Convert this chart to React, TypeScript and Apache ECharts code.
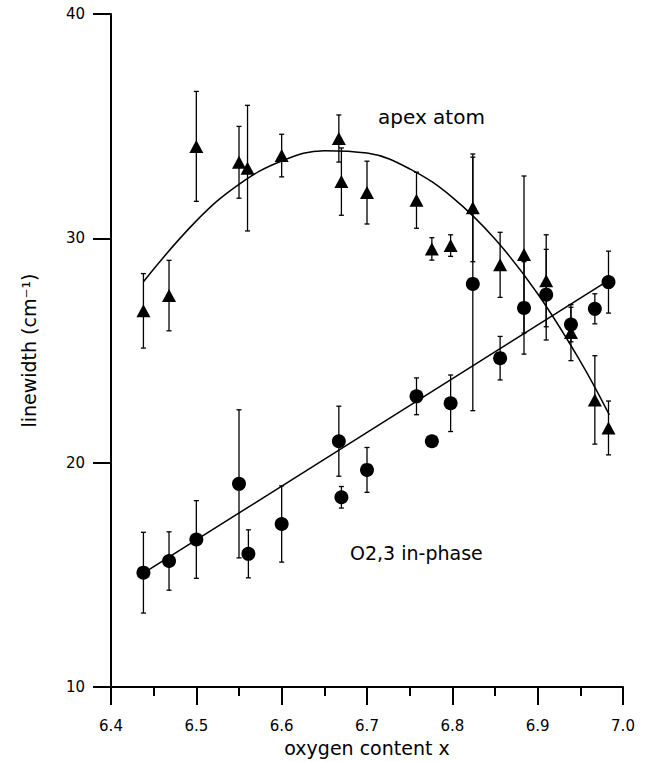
import React, { useEffect, useRef } from "react";
import * as echarts from "echarts";

// apex atom (triangles)
const apexX = [6.438, 6.468, 6.5, 6.55, 6.56, 6.6, 6.667, 6.67, 6.7, 6.758, 6.776, 6.798, 6.824, 6.856, 6.884, 6.91, 6.939, 6.967, 6.983];
const apexY = [26.77, 27.45, 34.1, 33.39, 33.13, 33.69, 34.45, 32.53, 32.04, 31.7, 29.53, 29.68, 31.36, 28.82, 29.28, 28.11, 25.8, 22.8, 21.55];
const apexErr = [1.66, 1.57, 2.45, 1.6, 2.8, 0.95, 1.05, 1.5, 1.4, 1.25, 0.5, 0.48, 2.4, 1.45, 3.5, 2.05, 1.25, 1.97, 1.2];

// O2,3 in-phase (circles)
const inphX = [6.438, 6.468, 6.5, 6.55, 6.561, 6.6, 6.667, 6.67, 6.7, 6.758, 6.776, 6.798, 6.824, 6.856, 6.884, 6.91, 6.939, 6.967, 6.983];
const inphY = [15.1, 15.62, 16.58, 19.06, 15.94, 17.27, 20.96, 18.46, 19.68, 22.96, 20.96, 22.65, 27.97, 24.66, 26.9, 27.49, 26.16, 26.86, 28.05];
const inphErr = [1.8, 1.3, 1.73, 3.3, 1.07, 1.7, 1.56, 0.48, 1.0, 0.82, 0, 1.26, 5.65, 0.97, 2.06, 2.02, 0.77, 0.67, 1.38];

// fitted curves
const apexFitX = [6.438, 6.5, 6.55, 6.6, 6.65, 6.7, 6.75, 6.8, 6.85, 6.9, 6.95, 6.984];
const apexFitY = [28.07, 30.78, 32.41, 33.45, 33.91, 33.8, 33.1, 31.83, 29.97, 27.53, 24.52, 22.13];
const inphFitX = [6.438, 6.984];
const inphFitY = [15.08, 28.15];

const xTicks = [6.4, 6.5, 6.6, 6.7, 6.8, 6.9, 7.0];
const yTicks = [10, 20, 30, 40];

const FONT = "DejaVu Sans";

function errData(xs: number[], ys: number[], es: number[]) {
  const out: number[][] = [];
  xs.forEach((x, i) => {
    if (es[i] > 0) out.push([x, ys[i] - es[i], ys[i] + es[i]]);
  });
  return out;
}

const errRender = (params: any, api: any) => {
  const x = api.value(0);
  const lo = api.value(1);
  const hi = api.value(2);
  const p1 = api.coord([x, hi]);
  const p2 = api.coord([x, lo]);
  const w = 2.5;
  const st = { stroke: "#000", lineWidth: 1.3 };
  return {
    type: "group",
    children: [
      { type: "line", shape: { x1: p1[0], y1: p1[1], x2: p2[0], y2: p2[1] }, style: st },
      { type: "line", shape: { x1: p1[0] - w, y1: p1[1], x2: p1[0] + w, y2: p1[1] }, style: st },
      { type: "line", shape: { x1: p2[0] - w, y1: p2[1], x2: p2[0] + w, y2: p2[1] }, style: st },
    ],
  };
};

export default function App() {
  const ref = useRef<HTMLDivElement>(null);
  useEffect(() => {
    if (!ref.current) return;
    const chart = echarts.init(ref.current, null, { renderer: "svg" });
    chart.setOption({
      animation: false,
      backgroundColor: "#fff",
      textStyle: { fontFamily: FONT },
      grid: { left: 111, right: 23, top: 14, bottom: 70 },
      xAxis: {
        type: "value",
        min: xTicks[0],
        max: xTicks[xTicks.length - 1],
        interval: 0.1,
        name: "oxygen content x",
        nameLocation: "middle",
        nameGap: 47,
        nameTextStyle: { fontFamily: FONT, fontSize: 19, color: "#000" },
        axisLine: { show: true, onZero: false, lineStyle: { color: "#000", width: 2 } },
        axisTick: { show: true, inside: false, length: 18, lineStyle: { color: "#000", width: 2 } },
        minorTick: { show: true, splitNumber: 2, length: 9, lineStyle: { color: "#000", width: 2 } },
        splitLine: { show: false },
        axisLabel: {
          margin: 31,
          fontFamily: FONT,
          fontSize: 15,
          color: "#000",
          formatter: (v: number) => v.toFixed(1),
        },
      },
      yAxis: {
        type: "value",
        min: yTicks[0],
        max: yTicks[yTicks.length - 1],
        interval: 10,
        name: "linewidth (cm\u207B\u00B9)",
        nameLocation: "middle",
        nameRotate: 90,
        nameGap: 73,
        nameTextStyle: { fontFamily: FONT, fontSize: 19, color: "#000" },
        axisLine: { show: true, onZero: false, lineStyle: { color: "#000", width: 2 } },
        axisTick: { show: true, inside: false, length: 18, lineStyle: { color: "#000", width: 2 } },
        splitLine: { show: false },
        axisLabel: { margin: 26, fontFamily: FONT, fontSize: 15, color: "#000" },
      },
      series: [
        {
          type: "line",
          data: apexFitX.map((x, i) => [x, apexFitY[i]]),
          smooth: 0.4,
          symbol: "none",
          lineStyle: { color: "#000", width: 1.5 },
          z: 2,
        },
        {
          type: "line",
          data: inphFitX.map((x, i) => [x, inphFitY[i]]),
          symbol: "none",
          lineStyle: { color: "#000", width: 1.5 },
          z: 2,
        },
        {
          type: "custom",
          data: errData(apexX, apexY, apexErr),
          renderItem: errRender,
          z: 3,
        },
        {
          type: "custom",
          data: errData(inphX, inphY, inphErr),
          renderItem: errRender,
          z: 3,
        },
        {
          type: "scatter",
          data: apexX.map((x, i) => [x, apexY[i]]),
          symbol: "triangle",
          symbolSize: [14, 13],
          itemStyle: { color: "#000", opacity: 1 },
          z: 4,
        },
        {
          type: "scatter",
          data: inphX.map((x, i) => [x, inphY[i]]),
          symbol: "circle",
          symbolSize: 14,
          itemStyle: { color: "#000", opacity: 1 },
          z: 4,
        },
      ],
      graphic: [
        {
          type: "text",
          left: 378,
          top: 107,
          style: { text: "apex atom", fontFamily: FONT, fontSize: 20, fill: "#000" },
        },
        {
          type: "text",
          left: 350,
          top: 543,
          style: { text: "O2,3 in-phase", fontFamily: FONT, fontSize: 19, fill: "#000" },
        },
      ],
    });
    return () => chart.dispose();
  }, []);
  return (
    <div
      ref={ref}
      style={{ position: "fixed", left: 0, top: 0, width: 646, height: 762, background: "#fff" }}
    />
  );
}
